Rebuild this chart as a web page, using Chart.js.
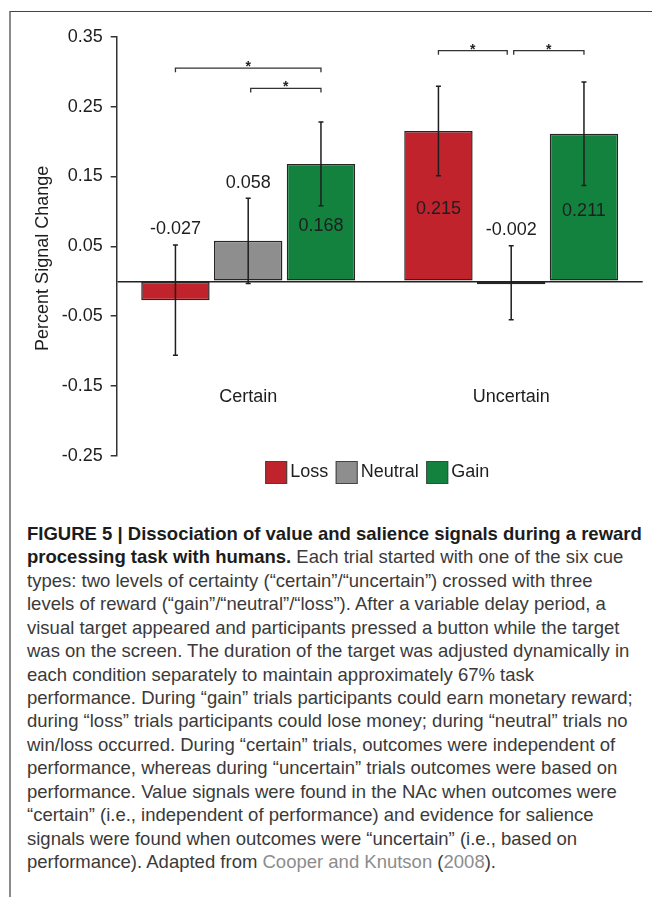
<!DOCTYPE html>
<html>
<head>
<meta charset="utf-8">
<title>Percent Signal Change by certainty and reward</title>
<script src="https://cdn.jsdelivr.net/npm/chart.js@4.4.1/dist/chart.umd.min.js"></script>
<style>
  html, body { margin: 0; padding: 0; background: #fff; }
  body { width: 652px; height: 897px; position: relative; overflow: hidden; font-family: "Liberation Sans", Arial, sans-serif; }
  #frame { position: absolute; left: 9px; top: 11px; right: 0; bottom: 0; border-top: 1px solid #444; border-left: 2px solid #8a8a8a; }
  #wrap { position: absolute; left: 0; top: 0; width: 652px; height: 500px; }
  #caption { position: absolute; left: 27px; top: 521.8px; font-family: "Liberation Sans", Arial, sans-serif; font-size: 18.5px; line-height: 23.45px; color: #3a3a3a; white-space: nowrap; transform-origin: 0 0; }
  #caption b { color: #1c1c1c; }
  #caption .ref { color: #8c8c8c; }
</style>
</head>
<body>
<div id="frame"></div>
<div id="wrap"><canvas id="chart" width="652" height="500"></canvas></div>
<div id="caption">
<b>FIGURE 5 | Dissociation of value and salience signals during a reward</b><br>
<b>processing task with humans.</b> Each trial started with one of the six cue<br>
types: two levels of certainty (“certain”/“uncertain”) crossed with three<br>
levels of reward (“gain”/“neutral”/“loss”). After a variable delay period, a<br>
visual target appeared and participants pressed a button while the target<br>
was on the screen. The duration of the target was adjusted dynamically in<br>
each condition separately to maintain approximately 67% task<br>
performance. During “gain” trials participants could earn monetary reward;<br>
during “loss” trials participants could lose money; during “neutral” trials no<br>
win/loss occurred. During “certain” trials, outcomes were independent of<br>
performance, whereas during “uncertain” trials outcomes were based on<br>
performance. Value signals were found in the NAc when outcomes were<br>
“certain” (i.e., independent of performance) and evidence for salience<br>
signals were found when outcomes were “uncertain” (i.e., based on<br>
performance). Adapted from <span class="ref">Cooper and Knutson</span> (<span class="ref">2008</span>).
</div>
<script>
// Conditions on the x axis and the three reward levels
const categories = ['Certain', 'Uncertain'];
const seriesNames = ['Loss', 'Neutral', 'Gain'];

// Mean percent signal change per condition
const lossValues = [-0.027, 0.215];
const neutralValues = [0.058, -0.002];
const gainValues = [0.168, 0.211];

// Standard errors (drawn as symmetric error bars)
const lossErrors = [0.079, 0.064];
const neutralErrors = [0.061, 0.053];
const gainErrors = [0.060, 0.074];

// Y axis tick labels
const yTickValues = [-0.25, -0.15, -0.05, 0.05, 0.15, 0.25, 0.35];

// Significant pairwise differences: condition, first series, second series, bracket height
const sigCategory = [0, 0, 1, 1];
const sigFromSeries = [0, 1, 0, 1];
const sigToSeries = [2, 2, 1, 2];
const sigLevel = [0.305, 0.276, 0.33, 0.33];
const sigMark = ['*', '*', '*', '*'];

const seriesColors = ['#c0232b', '#8e8e8e', '#13823f'];
const ink = '#1e1e1e';
const FONT = '"Liberation Sans", Arial, sans-serif';

const annotations = {
  id: 'annotations',
  afterDatasetsDraw(chart) {
    const ctx = chart.ctx;
    const y = chart.scales.y;
    const area = chart.chartArea;
    ctx.save();

    // error bars
    ctx.strokeStyle = ink;
    ctx.lineWidth = 1.5;
    chart.data.datasets.forEach((ds, i) => {
      chart.getDatasetMeta(i).data.forEach((bar, j) => {
        const v = ds.data[j], e = ds.errors[j];
        const top = y.getPixelForValue(v + e);
        const bot = y.getPixelForValue(v - e);
        ctx.beginPath();
        ctx.moveTo(bar.x, top); ctx.lineTo(bar.x, bot);
        ctx.moveTo(bar.x - 2.5, top); ctx.lineTo(bar.x + 2.5, top);
        ctx.moveTo(bar.x - 2.5, bot); ctx.lineTo(bar.x + 2.5, bot);
        ctx.stroke();
      });
    });

    // value labels
    ctx.font = '18px ' + FONT;
    ctx.fillStyle = ink;
    ctx.textAlign = 'center';
    ctx.textBaseline = 'middle';
    chart.data.datasets.forEach((ds, i) => {
      chart.getDatasetMeta(i).data.forEach((bar, j) => {
        const v = ds.data[j], e = ds.errors[j];
        let ty;
        if (v > 0.1) ty = y.getPixelForValue(v / 2) + 3;
        else ty = y.getPixelForValue(v + e) - 15.5;
        ctx.fillText(v.toFixed(3), bar.x, ty);
      });
    });

    // significance brackets
    ctx.strokeStyle = '#333';
    ctx.lineWidth = 1.3;
    sigCategory.forEach((c, k) => {
      const f = sigFromSeries[k], t = sigToSeries[k];
      const x1 = chart.getDatasetMeta(f).data[c].x + (f === 1 ? 2.5 : 0);
      const x2 = chart.getDatasetMeta(t).data[c].x - (t === 1 ? 4 : 0);
      const ly = y.getPixelForValue(sigLevel[k]);
      ctx.beginPath();
      ctx.moveTo(x1, ly + 4); ctx.lineTo(x1, ly); ctx.lineTo(x2, ly); ctx.lineTo(x2, ly + 4);
      ctx.stroke();
      ctx.font = 'bold 14px ' + FONT;
      ctx.textBaseline = 'alphabetic';
      ctx.fillStyle = '#222';
      ctx.fillText(sigMark[k], (x1 + x2) / 2, ly + 3);
    });

    // y axis title
    ctx.font = '18px ' + FONT;
    ctx.fillStyle = ink;
    ctx.textBaseline = 'middle';
    ctx.translate(43.5, (area.top + area.bottom) / 2 + 12);
    ctx.rotate(-Math.PI / 2);
    ctx.fillText('Percent Signal Change', 0, 0);
    ctx.restore();

    // legend
    ctx.save();
    ctx.font = '18px ' + FONT;
    ctx.textBaseline = 'middle';
    ctx.textAlign = 'left';
    const box = 22, gapText = 3, gapItem = 7.5;
    const widths = chart.data.datasets.map(ds => box + gapText + ctx.measureText(ds.label).width);
    const total = widths.reduce((a, b) => a + b, 0) + gapItem * (widths.length - 1);
    let lx = (area.left + area.right) / 2 - 2.5 - total / 2;
    const cy = 472.5;
    chart.data.datasets.forEach((ds, i) => {
      ctx.fillStyle = ds.backgroundColor;
      ctx.fillRect(lx, cy - 11.5, box, 23);
      ctx.strokeStyle = '#444';
      ctx.lineWidth = 1;
      ctx.strokeRect(lx + 0.5, cy - 11, box - 1, 22);
      ctx.fillStyle = ink;
      ctx.fillText(ds.label, lx + box + gapText, cy);
      lx += widths[i] + gapItem;
    });
    ctx.restore();
  }
};

const allTicks = [...yTickValues, 0].sort((a, b) => a - b);

new Chart(document.getElementById('chart'), {
  type: 'bar',
  data: {
    labels: categories,
    datasets: [
      { label: seriesNames[0], data: lossValues, errors: lossErrors, backgroundColor: seriesColors[0] },
      { label: seriesNames[1], data: neutralValues, errors: neutralErrors, backgroundColor: seriesColors[1] },
      { label: seriesNames[2], data: gainValues, errors: gainErrors, backgroundColor: seriesColors[2] }
    ]
  },
  options: {
    responsive: false,
    animation: false,
    devicePixelRatio: 1,
    layout: { padding: { top: 36.7, right: 9.3, bottom: 44, left: 0 } },
    datasets: {
      bar: {
        categoryPercentage: 0.83,
        barPercentage: 0.94,
        borderColor: '#262626',
        borderWidth: 1.5,
        borderSkipped: false,
        minBarLength: 3
      }
    },
    plugins: {
      legend: { display: false },
      tooltip: { enabled: false }
    },
    scales: {
      x: {
        type: 'category',
        position: { y: -0.15 },
        grid: { display: false, drawTicks: false },
        border: { display: false },
        ticks: { padding: 0, color: ink, font: { family: FONT, size: 18 } }
      },
      y: {
        min: -0.25,
        max: 0.35,
        afterBuildTicks: s => { s.ticks = allTicks.map(v => ({ value: v })); },
        afterFit: s => { s.width = 116.7; },
        ticks: {
          callback: v => (v === 0 ? '' : v.toFixed(2)),
          padding: 8,
          color: ink,
          font: { family: FONT, size: 18 }
        },
        grid: {
          color: c => (c.tick && c.tick.value === 0 ? '#222' : 'rgba(0,0,0,0)'),
          tickColor: c => (c.tick && c.tick.value === 0 ? 'rgba(0,0,0,0)' : '#333'),
          lineWidth: 1.5,
          tickLength: 6,
          drawOnChartArea: true
        },
        border: { display: true, color: '#333', width: 1.5 }
      }
    }
  },
  plugins: [annotations]
});
</script>
</body>
</html>
